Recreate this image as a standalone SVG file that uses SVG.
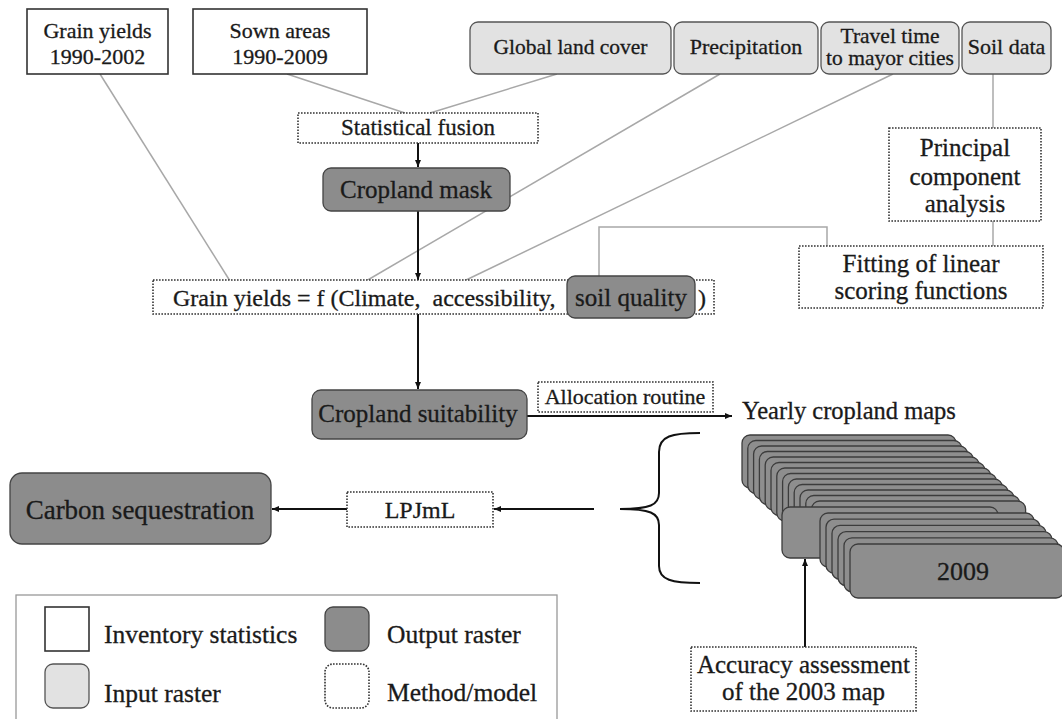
<svg xmlns="http://www.w3.org/2000/svg" width="1062" height="719" viewBox="0 0 1062 719">
<defs>
<marker id="ah" markerUnits="userSpaceOnUse" markerWidth="9" markerHeight="8" refX="7" refY="3" orient="auto"><path d="M0,0 L7,3 L0,6 z" fill="#111"/></marker>
</defs>
<style>
text { font-family: "Liberation Serif","Times New Roman",serif; fill:#1a1a1a; stroke:#1a1a1a; stroke-width:0.3; text-anchor:middle; }
.l { text-anchor:start; }
.inv { fill:#fff; stroke:#333; stroke-width:1.6; }
.inp { fill:#e2e2e2; stroke:#555; stroke-width:1.3; }
.out { fill:#8c8c8c; stroke:#444; stroke-width:1.3; }
.met { fill:#fff; stroke:#333; stroke-width:1.6; stroke-dasharray:1.6 1.4; }
.map { fill:#8e8e8e; stroke:#3c3c3c; stroke-width:1.3; }
.gl { stroke:#a8a8a8; stroke-width:1.5; fill:none; }
.ar { stroke:#111; stroke-width:2; fill:none; marker-end:url(#ah); }
.br { stroke:#111; stroke-width:2; fill:none; }
</style>
<rect width="1062" height="719" fill="#fff"/>

<g id="connectors">
<line class="gl" x1="100" y1="74" x2="230" y2="281"/>
<line class="gl" x1="287" y1="74" x2="405" y2="113"/>
<line class="gl" x1="557" y1="74" x2="430" y2="113"/>
<line class="gl" x1="720" y1="74" x2="366" y2="281"/>
<line class="gl" x1="893" y1="74" x2="464" y2="281"/>
<line class="gl" x1="993" y1="74" x2="993" y2="128"/>
<line class="gl" x1="993" y1="221" x2="993" y2="246"/>
<polyline class="gl" points="827,246 827,227 599,227 599,276"/>
<line class="ar" x1="418" y1="143" x2="418" y2="167"/>
<line class="ar" x1="418" y1="211" x2="418" y2="280"/>
<line class="ar" x1="418" y1="314" x2="418" y2="389"/>
<line class="ar" x1="527" y1="416" x2="732" y2="416"/>
<line class="ar" x1="594" y1="509" x2="494" y2="509"/>
<line class="ar" x1="347" y1="509" x2="272" y2="509"/>
<line class="ar" x1="805" y1="647" x2="805" y2="559"/>
<path class="br" d="M700,433 C672,433 659,436 659,452 L659,493 C659,505 650,509 620,509 C650,509 659,513 659,525 L659,566 C659,580 672,583 700,583"/>
</g>

<g id="grain-yields-stats">
<rect class="inv" x="27" y="9" width="141" height="65"/>
<text x="97.5" y="38" font-size="22">Grain yields</text>
<text x="97.5" y="64" font-size="22">1990-2002</text>
</g>
<g id="sown-areas">
<rect class="inv" x="193" y="9" width="174" height="65"/>
<text x="280" y="38" font-size="22">Sown areas</text>
<text x="280" y="64" font-size="22">1990-2009</text>
</g>
<g id="global-land-cover">
<rect class="inp" x="470" y="22" width="201" height="52" rx="8"/>
<text x="570.5" y="54" font-size="21.5">Global land cover</text>
</g>
<g id="precipitation">
<rect class="inp" x="674" y="22" width="144" height="52" rx="8"/>
<text x="746" y="54" font-size="22">Precipitation</text>
</g>
<g id="travel-time">
<rect class="inp" x="821" y="22" width="138" height="52" rx="8"/>
<text x="890" y="43" font-size="21.5">Travel time</text>
<text x="890" y="65" font-size="21.5">to mayor cities</text>
</g>
<g id="soil-data">
<rect class="inp" x="962" y="22" width="89" height="52" rx="8"/>
<text x="1006.5" y="54" font-size="22">Soil data</text>
</g>
<g id="statistical-fusion">
<rect class="met" x="298" y="113" width="240" height="30"/>
<text x="418" y="135" font-size="23">Statistical fusion</text>
</g>
<g id="cropland-mask">
<rect class="out" x="323" y="168" width="187" height="43" rx="8"/>
<text x="416" y="198" font-size="25">Cropland mask</text>
</g>
<g id="principal-component-analysis">
<rect class="met" x="889" y="128" width="152" height="93"/>
<text x="965" y="156" font-size="25">Principal</text>
<text x="965" y="185" font-size="25">component</text>
<text x="965" y="212" font-size="25">analysis</text>
</g>
<g id="fitting-scoring-functions">
<rect class="met" x="799" y="246" width="244" height="62"/>
<text x="921" y="272" font-size="25">Fitting of linear</text>
<text x="921" y="299" font-size="25">scoring functions</text>
</g>
<g id="grain-yields-function">
<rect class="met" x="153" y="280" width="561" height="34"/>
<text class="l" x="173" y="306" font-size="24" xml:space="preserve">Grain yields = f (Climate,  accessibility,</text>
<text class="l" x="698" y="306" font-size="24">)</text>
</g>
<g id="soil-quality">
<rect class="out" x="567" y="276" width="128" height="42" rx="8"/>
<text x="631" y="306" font-size="25">soil quality</text>
</g>
<g id="cropland-suitability">
<rect class="out" x="312" y="390" width="215" height="49" rx="9"/>
<text x="418" y="422" font-size="25">Cropland suitability</text>
</g>
<g id="allocation-routine">
<rect class="met" x="538" y="382" width="175" height="30"/>
<text x="625" y="404" font-size="22">Allocation routine</text>
</g>
<g id="yearly-cropland-maps">
<text class="l" x="742" y="419" font-size="24.5">Yearly cropland maps</text>
<rect class="map" x="742" y="435" width="214" height="53" rx="8"/>
<rect class="map" x="747.8" y="440.5" width="214" height="53" rx="8"/>
<rect class="map" x="753.6" y="446" width="214" height="53" rx="8"/>
<rect class="map" x="759.4" y="451.5" width="214" height="53" rx="8"/>
<rect class="map" x="765.2" y="457" width="214" height="53" rx="8"/>
<rect class="map" x="771" y="462.5" width="214" height="53" rx="8"/>
<rect class="map" x="776.8" y="468" width="214" height="53" rx="8"/>
<rect class="map" x="782.6" y="473.5" width="214" height="53" rx="8"/>
<rect class="map" x="788.4" y="479" width="214" height="53" rx="8"/>
<rect class="map" x="794.2" y="484.5" width="214" height="53" rx="8"/>
<rect class="map" x="800" y="490" width="214" height="53" rx="8"/>
<rect class="map" x="805.8" y="495.5" width="214" height="53" rx="8"/>
<rect class="map" x="811.6" y="501" width="214" height="53" rx="8"/>
<rect class="map" x="782" y="507" width="216" height="51" rx="8"/>
<rect class="map" x="820" y="513" width="214" height="54" rx="8"/>
<rect class="map" x="826" y="519.2" width="214" height="54" rx="8"/>
<rect class="map" x="832" y="525.4" width="214" height="54" rx="8"/>
<rect class="map" x="838" y="531.6" width="214" height="54" rx="8"/>
<rect class="map" x="844" y="537.8" width="214" height="54" rx="8"/>
<rect class="map" x="850" y="544" width="214" height="54" rx="8"/>
<text x="963" y="580" font-size="26">2009</text>
</g>
<g id="lpjml">
<rect class="met" x="347" y="492" width="146" height="35"/>
<text x="420" y="518" font-size="24">LPJmL</text>
</g>
<g id="carbon-sequestration">
<rect class="out" x="10" y="473" width="261" height="71" rx="12"/>
<text x="140" y="519" font-size="27">Carbon sequestration</text>
</g>
<g id="accuracy-assessment">
<rect class="met" x="691" y="647" width="225" height="64"/>
<text x="803.5" y="673" font-size="25">Accuracy assessment</text>
<text x="803.5" y="700" font-size="25">of the 2003 map</text>
</g>
<g id="legend">
<rect x="16" y="595" width="541" height="140" fill="#fff" stroke="#999" stroke-width="1.3"/>
<rect class="inv" x="45" y="607" width="44" height="44"/>
<text class="l" x="104" y="643" font-size="25.5">Inventory statistics</text>
<rect class="inp" x="45" y="664" width="44" height="44" rx="8"/>
<text class="l" x="104" y="702" font-size="25.5">Input raster</text>
<rect class="out" x="325" y="607" width="44" height="44" rx="8"/>
<text class="l" x="387" y="643" font-size="25.5">Output raster</text>
<rect class="met" x="325" y="664" width="44" height="44" rx="8"/>
<text class="l" x="387" y="701" font-size="25.5">Method/model</text>
</g>
</svg>
